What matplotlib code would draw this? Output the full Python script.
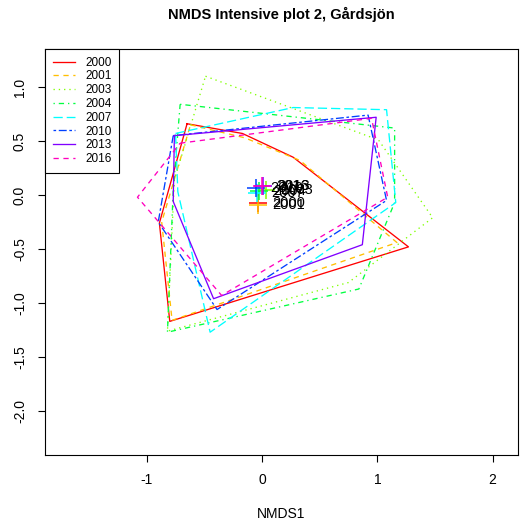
import matplotlib
matplotlib.use("Agg")
import matplotlib.pyplot as plt

plt.rcParams['font.family'] = ['Liberation Sans', 'DejaVu Sans']
plt.rcParams['axes.unicode_minus'] = False

years = ["2000", "2001", "2003", "2004", "2007", "2010", "2013", "2016"]
colors = ["#FF0000", "#FFBF00", "#80FF00", "#00FF40", "#00FFFF", "#0040FF", "#8000FF", "#FF00BF"]

hull_x = {
    "2000": [-0.65, -0.17, 0.27, 1.27, -0.80, -0.89],
    "2001": [-0.62, -0.15, 0.33, 1.17, -0.78, -0.87],
    "2003": [-0.49, 1.01, 1.48, 0.75, -0.82, -0.76],
    "2004": [-0.71, 1.15, 1.15, 0.84, -0.82, -0.77],
    "2007": [-0.75, 0.27, 1.08, 1.16, -0.45, -0.73],
    "2010": [-0.77, 0.92, 1.08, -0.39, -0.90],
    "2013": [-0.76, 0.99, 0.87, -0.42, -0.77],
    "2016": [-0.71, 0.95, 1.09, -0.35, -1.08],
}
hull_y = {
    "2000": [0.66, 0.57, 0.35, -0.48, -1.17, -0.26],
    "2001": [0.65, 0.53, 0.32, -0.44, -1.16, -0.25],
    "2003": [1.10, 0.51, -0.21, -0.81, -1.26, 0.14],
    "2004": [0.84, 0.62, -0.07, -0.87, -1.27, 0.05],
    "2007": [0.57, 0.81, 0.79, -0.07, -1.27, 0.03],
    "2010": [0.55, 0.74, -0.05, -1.06, -0.25],
    "2013": [0.55, 0.72, -0.46, -0.96, -0.06],
    "2016": [0.48, 0.71, -0.02, -0.93, -0.02],
}
cent_x = [-0.035, -0.035, 0.035, -0.026, -0.043, -0.052, 0.009, 0.0]
cent_y = [-0.074, -0.093, 0.046, 0.037, 0.019, 0.065, 0.083, 0.083]

xticks = [-1, 0, 1, 2]
yticks = [-2.0, -1.5, -1.0, -0.5, 0.0, 0.5, 1.0]

linestyles = [
    '-',
    (0, (4, 3.5)),
    (0, (1, 3)),
    (0, (1, 3, 4, 3)),
    (0, (7, 3)),
    (0, (2, 2, 6, 2)),
    '-',
    (0, (4, 3.5)),
]

fig = plt.figure(figsize=(5.2, 5.24), dpi=100)
ax = fig.add_axes([45/520, 1-455/524, (518-45)/520, (455-49)/524])

handles = []
for i, yr in enumerate(years):
    xs = hull_x[yr] + [hull_x[yr][0]]
    ys = hull_y[yr] + [hull_y[yr][0]]
    ln, = ax.plot(xs, ys, color=colors[i], linestyle=linestyles[i], lw=0.95, label=yr)
    handles.append(ln)

for i, yr in enumerate(years):
    ax.plot(cent_x[i], cent_y[i], marker='+', color=colors[i], markersize=13, mew=1.1, linestyle='none')
for i, yr in enumerate(years):
    ax.annotate(yr, (cent_x[i], cent_y[i]), xytext=(10, 0), textcoords='offset points',
                ha='left', va='center', fontsize=10.5, color='black')

ax.set_xlim(-1.882, 2.220)
ax.set_ylim(-2.407, 1.352)
ax.set_xticks(xticks)
ax.set_xticklabels([str(t) for t in xticks])
ax.set_yticks(yticks)
ax.set_yticklabels(["%.1f" % t for t in yticks], rotation=90, va='center')
ax.tick_params(direction='out', length=5, width=0.8, labelsize=10, pad=8)
for s in ax.spines.values():
    s.set_linewidth(0.8)

ax.set_xlabel("NMDS1", fontsize=10, labelpad=14)
fig.text(281/520, 1-14/524, "NMDS Intensive plot 2, Gårdsjön", ha='center', va='center',
         fontsize=10.5, fontweight='bold')

leg = ax.legend(handles=handles, loc='upper left', borderaxespad=0, fontsize=8.5,
                frameon=True, fancybox=False, edgecolor='black', framealpha=1,
                handlelength=1.9, handletextpad=0.85, labelspacing=0.15, borderpad=0.65)
leg.get_frame().set_linewidth(0.8)

fig.savefig("out.png", dpi=100)
